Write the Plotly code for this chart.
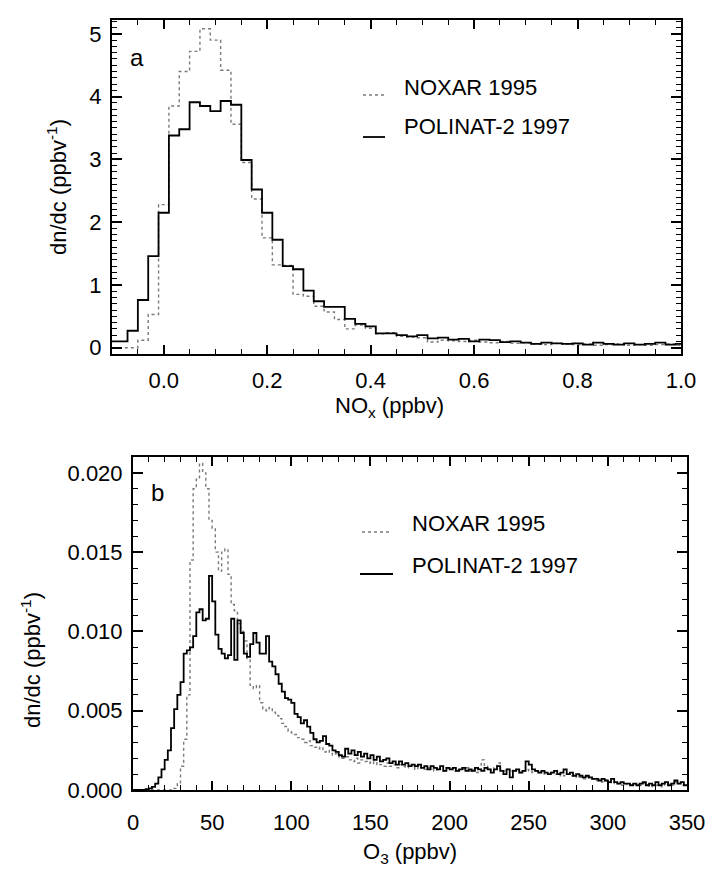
import numpy as np
import plotly.graph_objects as go

# ---------------- data ----------------
# Panel a: NOx histograms, bins of 0.02 ppbv (left edges from -0.11)
nox_bin_width = 0.02
nox_left_edges = np.round(-0.11 + nox_bin_width * np.arange(56), 3)
nox_polinat = [0.10, 0.10, 0.27, 0.76, 1.46, 2.15, 3.38, 3.48, 3.91, 3.85,
               3.77, 3.93, 3.87, 2.99, 2.52, 2.15, 1.72, 1.30, 1.25, 0.91,
               0.74, 0.65, 0.65, 0.46, 0.38, 0.34, 0.23, 0.23, 0.20, 0.18,
               0.20, 0.15, 0.16, 0.13, 0.14, 0.10, 0.13, 0.12, 0.09, 0.10,
               0.08, 0.06, 0.08, 0.07, 0.06, 0.07, 0.05, 0.08, 0.06, 0.05,
               0.07, 0.05, 0.06, 0.08, 0.05, 0.06]
nox_noxar = [0.00, 0.00, 0.00, 0.12, 0.53, 2.28, 3.85, 4.40, 4.72, 5.08,
             4.90, 4.42, 3.56, 2.95, 2.37, 1.75, 1.32, 1.31, 0.85, 0.82,
             0.66, 0.57, 0.45, 0.30, 0.36, 0.31, 0.22, 0.24, 0.18, 0.17,
             0.16, 0.09, 0.12, 0.11, 0.10, 0.12, 0.09, 0.08, 0.10, 0.07,
             0.08, 0.06, 0.05, 0.07, 0.06, 0.05, 0.06, 0.04, 0.05, 0.06,
             0.04, 0.05, 0.04, 0.05, 0.06, 0.04]

# Panel b: O3 histograms, bins of 2 ppbv (left edges from 0)
o3_bin_width = 2
o3_left_edges = o3_bin_width * np.arange(175)
o3_polinat = [
    0, 0, 0, 0, 0.00005, 0.0001, 0.0002, 0.0004, 0.0008, 0.0013,
    0.0019, 0.0025, 0.0039, 0.0051, 0.0060, 0.0068, 0.0086, 0.0088, 0.0090, 0.0097,
    0.0112, 0.0114, 0.0107, 0.0108, 0.0135, 0.0119, 0.0098, 0.0089, 0.0086, 0.0083,
    0.0085, 0.0108, 0.0082, 0.0107, 0.0099, 0.0086, 0.0084, 0.0092, 0.0099, 0.0093,
    0.0086, 0.0086, 0.0097, 0.0081, 0.0078, 0.0073, 0.0067, 0.0062, 0.0058, 0.0057,
    0.0055, 0.0048, 0.0046, 0.0042, 0.0044, 0.0040, 0.0036, 0.0032, 0.0030, 0.0031,
    0.0034, 0.0029, 0.0028, 0.0025, 0.0024, 0.0022, 0.0021, 0.0026, 0.0023, 0.0025,
    0.0022, 0.0024, 0.0021, 0.0023, 0.0020, 0.0022, 0.0019, 0.0021, 0.0018, 0.0019,
    0.0020, 0.0017, 0.0018, 0.0016, 0.0018, 0.0016, 0.0017, 0.0015, 0.0016, 0.0015,
    0.0016, 0.0014, 0.0015, 0.0013, 0.0015, 0.0014, 0.0013, 0.0015, 0.0012, 0.0014,
    0.0013, 0.0014, 0.0012, 0.0013, 0.0014, 0.0012, 0.0013, 0.0012, 0.0014, 0.0013,
    0.0012, 0.0014, 0.0013, 0.0011, 0.0013, 0.0015, 0.0012, 0.0010, 0.0013, 0.0008,
    0.0012, 0.0013, 0.0011, 0.0012, 0.0018, 0.0016, 0.0013, 0.0012, 0.0011, 0.0012,
    0.0011, 0.0010, 0.0011, 0.0012, 0.0010, 0.0011, 0.0013, 0.0010, 0.0011, 0.0009,
    0.0010, 0.0009, 0.0008, 0.0009, 0.0008, 0.0007, 0.0007, 0.0006, 0.0007, 0.0006,
    0.0005, 0.0007, 0.0005, 0.0004, 0.0005, 0.0004, 0.0004, 0.0003, 0.0004, 0.0003,
    0.0004, 0.0005, 0.0003, 0.0004, 0.0003, 0.0005, 0.0003, 0.0004, 0.0005, 0.0003,
    0.0004, 0.0006, 0.0004, 0.0005, 0.0003]
o3_noxar = [
    0, 0, 0, 0, 0, 0, 0, 0, 0, 0,
    0, 0, 0, 0.0001, 0.0004, 0.0015, 0.0032, 0.0060, 0.0145, 0.0190,
    0.0196, 0.0206, 0.0200, 0.0190, 0.0170, 0.0165, 0.0150, 0.0138, 0.0150, 0.0152,
    0.0136, 0.0117, 0.0113, 0.0105, 0.0100, 0.0094, 0.0082, 0.0066, 0.0064, 0.0066,
    0.0055, 0.0051, 0.0050, 0.0052, 0.0049, 0.0047, 0.0045, 0.0042, 0.0040, 0.0037,
    0.0036, 0.0035, 0.0033, 0.0032, 0.0030, 0.0031, 0.0028, 0.0027, 0.0026, 0.0027,
    0.0024, 0.0025, 0.0023, 0.0022, 0.0023, 0.0021, 0.0020, 0.0021, 0.0019, 0.0018,
    0.0020, 0.0017, 0.0019, 0.0018, 0.0017, 0.0018, 0.0016, 0.0017, 0.0016, 0.0015,
    0.0017, 0.0015, 0.0016, 0.0014, 0.0016, 0.0015, 0.0014, 0.0016, 0.0014, 0.0013,
    0.0015, 0.0014, 0.0013, 0.0014, 0.0013, 0.0012, 0.0014, 0.0013, 0.0012, 0.0014,
    0.0013, 0.0012, 0.0013, 0.0012, 0.0013, 0.0014, 0.0012, 0.0013, 0.0011, 0.0013,
    0.0019, 0.0015, 0.0013, 0.0012, 0.0014, 0.0017, 0.0013, 0.0012, 0.0013, 0.0012,
    0.0013, 0.0012, 0.0011, 0.0012, 0.0013, 0.0012, 0.0011, 0.0012, 0.0011, 0.0010,
    0.0011, 0.0010, 0.0011, 0.0010, 0.0009, 0.0010, 0.0009, 0.0010, 0.0009, 0.0008,
    0.0009, 0.0008, 0.0007, 0.0008, 0.0007, 0.0007, 0.0006, 0.0006, 0.0005, 0.0006,
    0.0005, 0.0004, 0.0005, 0.0004, 0.0003, 0.0004, 0.0003, 0.0003, 0.0004, 0.0003,
    0.0003, 0.0004, 0.0003, 0.0002, 0.0003, 0.0003, 0.0002, 0.0004, 0.0003, 0.0004,
    0.0003, 0.0005, 0.0004, 0.0003, 0.0004]

series_names = ["NOXAR 1995", "POLINAT-2 1997"]

# ---------------- helpers ----------------
W, H = 712, 869
FONT = "Liberation Sans, Arial, sans-serif"
NOXAR_STYLE = dict(color="#7a7a7a", width=1.4, dash="dot")
POLINAT_STYLE = dict(color="black", width=1.8)


def step_xy(left, width, vals):
    x = list(left) + [left[-1] + width]
    y = list(vals) + [vals[-1]]
    return x, y


def px_x(p):
    return p / W


def px_y(p):
    return 1 - p / H


fig = go.Figure()

for vals, name, style in [(nox_noxar, series_names[0], NOXAR_STYLE),
                          (nox_polinat, series_names[1], POLINAT_STYLE)]:
    x, y = step_xy(nox_left_edges, nox_bin_width, vals)
    fig.add_trace(go.Scatter(x=x, y=y, mode="lines", line_shape="hv",
                             line=style, name=name, showlegend=False,
                             xaxis="x", yaxis="y"))

for vals, name, style in [(o3_noxar, series_names[0], NOXAR_STYLE),
                          (o3_polinat, series_names[1], POLINAT_STYLE)]:
    x, y = step_xy(o3_left_edges, o3_bin_width, vals)
    fig.add_trace(go.Scatter(x=x, y=y, mode="lines", line_shape="hv",
                             line=style, name=name, showlegend=False,
                             xaxis="x2", yaxis="y2"))

axis_common = dict(showline=True, linecolor="black", linewidth=2,
                   mirror="ticks", ticks="inside", tickcolor="black",
                   tickwidth=1.5, showgrid=False, zeroline=False,
                   tickfont=dict(family=FONT, size=22, color="black"),
                   automargin=False)

fig.update_layout(
    width=W, height=H,
    margin=dict(l=0, r=0, t=0, b=0),
    paper_bgcolor="white", plot_bgcolor="white",
    showlegend=False,
    xaxis=dict(domain=[px_x(112), px_x(681)], anchor="y",
               range=[-0.1, 1.0], tick0=0, dtick=0.2, tickformat=".1f",
               ticklen=9, ticklabelstandoff=6,
               minor=dict(ticks="inside", dtick=0.05, tick0=0, ticklen=5,
                          tickcolor="black", tickwidth=1.2),
               **axis_common),
    yaxis=dict(domain=[px_y(354), px_y(20)], anchor="x",
               range=[-0.1, 5.22], tick0=0, dtick=1,
               ticklen=10, ticklabelstandoff=4,
               minor=dict(ticks="inside", dtick=0.1, tick0=0, ticklen=5,
                          tickcolor="black", tickwidth=1.2),
               **axis_common),
    xaxis2=dict(domain=[px_x(133), px_x(687)], anchor="y2",
                range=[0, 350], tick0=0, dtick=50,
                ticklen=9, ticklabelstandoff=12,
                minor=dict(ticks="inside", dtick=10, tick0=0, ticklen=5,
                           tickcolor="black", tickwidth=1.2),
                **axis_common),
    yaxis2=dict(domain=[px_y(790), px_y(457)], anchor="x2",
                range=[0, 0.021], tick0=0, dtick=0.005, tickformat=".3f",
                ticklen=10, ticklabelstandoff=4,
                minor=dict(ticks="inside", dtick=0.001, tick0=0, ticklen=5,
                           tickcolor="black", tickwidth=1.2),
                **axis_common),
)

annotations = []
shapes = []


def text(x, y, s, size=22, xanchor="center", angle=0):
    annotations.append(dict(x=px_x(x), y=px_y(y), xref="paper", yref="paper",
                            text=s, showarrow=False, xanchor=xanchor,
                            yanchor="middle", textangle=angle,
                            font=dict(family=FONT, size=size, color="black")))


# axis titles
text(390, 407, "NO<sub>x</sub> (ppbv)")
text(410, 853, "O<sub>3</sub> (ppbv)")
text(57, 187, "dn/dc (ppbv<sup>-1</sup>)", angle=-90)
text(31, 660, "dn/dc (ppbv<sup>-1</sup>)", angle=-90)
# panel letters
text(137, 57, "a", size=24)
text(157, 492, "b", size=24)

# legends
legend_rows = [
    # (line x0, x1, line y, text x, text y, style, label)
    (363, 385, 95, 402, 87, NOXAR_STYLE, series_names[0]),
    (363, 385, 137, 402, 126, POLINAT_STYLE, series_names[1]),
    (362, 392, 532, 410, 523, NOXAR_STYLE, series_names[0]),
    (360, 393, 574, 410, 565, POLINAT_STYLE, series_names[1]),
]
for x0, x1, ly, tx, ty, style, label in legend_rows:
    shapes.append(dict(type="line", xref="paper", yref="paper",
                       x0=px_x(x0), x1=px_x(x1), y0=px_y(ly), y1=px_y(ly),
                       line=style))
    text(tx, ty, label, xanchor="left")

fig.update_layout(annotations=annotations, shapes=shapes)

fig.write_html("out.html")
